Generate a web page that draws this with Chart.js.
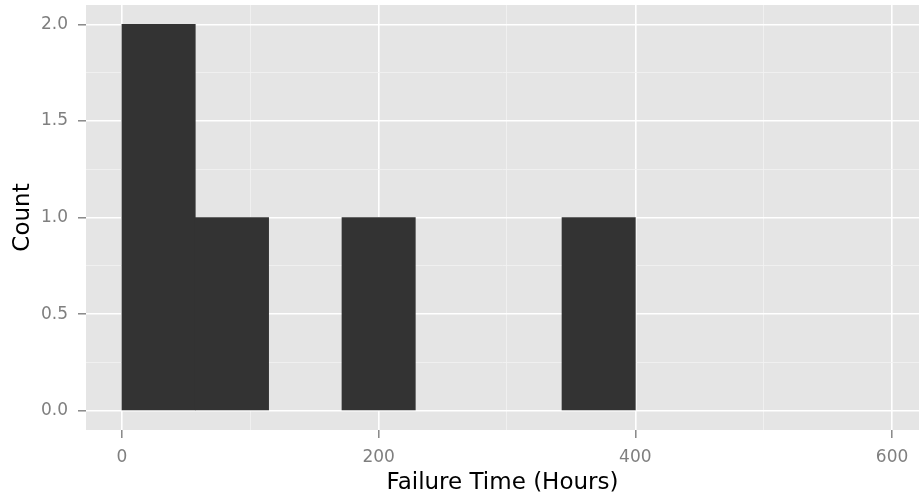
<!DOCTYPE html>
<html>
<head>
<meta charset="utf-8">
<script src="https://cdn.jsdelivr.net/npm/chart.js@4.4.1/dist/chart.umd.min.js"></script>
<style>
  html, body { margin: 0; padding: 0; background: #ffffff; }
  #wrap { width: 919px; height: 497px; }
</style>
</head>
<body>
<div id="wrap"><canvas id="c" width="919" height="497"></canvas></div>
<script>
// Histogram bins (Failure Time, hours) and counts
const binEdges = [0, 57.14, 114.29, 171.43, 228.57, 285.71, 342.86, 400];
const binCounts = [2, 1, 0, 1, 0, 0, 1];

// Axis ticks
const xTickValues = [0, 100, 200, 300, 400, 500, 600];
const xMajorTicks = [0, 200, 400, 600];
const yTickValues = [0, 0.25, 0.5, 0.75, 1, 1.25, 1.5, 1.75, 2];
const yMajorTicks = [0, 0.5, 1, 1.5, 2];

const xTitle = 'Failure Time (Hours)';
const yTitle = 'Count';

const points = binCounts.map((c, i) => ({ x: (binEdges[i] + binEdges[i + 1]) / 2, y: c }));

const panelBg = {
  id: 'panelBg',
  beforeDraw(chart) {
    const { ctx, chartArea: a } = chart;
    ctx.save();
    ctx.fillStyle = '#ffffff';
    ctx.fillRect(0, 0, chart.width, chart.height);
    ctx.fillStyle = '#E5E5E5';
    ctx.fillRect(a.left, a.top, a.right - a.left, a.bottom - a.top);
    ctx.restore();
  }
};

const isMajorX = v => xMajorTicks.some(m => Math.abs(m - v) < 1e-9);
const isMajorY = v => yMajorTicks.some(m => Math.abs(m - v) < 1e-9);

new Chart(document.getElementById('c'), {
  type: 'bar',
  data: {
    datasets: [{
      data: points,
      backgroundColor: ctx => (ctx.raw && ctx.raw.y === 0) ? 'rgba(0,0,0,0)' : '#333333',
      borderWidth: 0,
      barPercentage: 1.0,
      categoryPercentage: 1.0
    }]
  },
  options: {
    responsive: false,
    animation: false,
    layout: { padding: { top: 5, right: 0, left: 0, bottom: 0 } },
    plugins: { legend: { display: false }, tooltip: { enabled: false } },
    scales: {
      x: {
        type: 'linear',
        offset: false,
        min: -28,
        max: 621,
        afterBuildTicks: s => { s.ticks = xTickValues.map(v => ({ value: v })); },
        afterFit: s => { s.height = 67; s.paddingLeft = 0; s.paddingRight = 0; },
        ticks: {
          autoSkip: false,
          maxRotation: 0,
          padding: 9,
          color: '#7F7F7F',
          font: { family: 'DejaVu Sans', size: 17 },
          callback: v => isMajorX(v) ? String(v) : ''
        },
        grid: {
          offset: false,
          color: ctx => isMajorX(ctx.tick.value) ? '#FFFFFF' : '#F2F2F2',
          lineWidth: ctx => isMajorX(ctx.tick.value) ? 1.6 : 0.8,
          tickColor: ctx => isMajorX(ctx.tick.value) ? '#7F7F7F' : 'rgba(0,0,0,0)',
          tickLength: 8,
          tickWidth: 1.4
        },
        border: { display: false },
        title: {
          display: true,
          text: xTitle,
          color: '#000000',
          font: { family: 'DejaVu Sans', size: 23 },
          padding: { top: 0, bottom: 0 }
        }
      },
      y: {
        type: 'linear',
        min: -0.1,
        max: 2.1,
        afterBuildTicks: s => { s.ticks = yTickValues.map(v => ({ value: v })); },
        afterFit: s => { s.width = 86; s.paddingTop = 0; s.paddingBottom = 0; },
        ticks: {
          autoSkip: false,
          padding: 10,
          color: '#7F7F7F',
          font: { family: 'DejaVu Sans', size: 17 },
          callback: v => isMajorY(v) ? Number(v).toFixed(1) : ''
        },
        grid: {
          color: ctx => isMajorY(ctx.tick.value) ? '#FFFFFF' : '#F2F2F2',
          lineWidth: ctx => isMajorY(ctx.tick.value) ? 1.6 : 0.8,
          tickColor: ctx => isMajorY(ctx.tick.value) ? '#7F7F7F' : 'rgba(0,0,0,0)',
          tickLength: 8,
          tickWidth: 1.4
        },
        border: { display: false },
        title: {
          display: true,
          text: yTitle,
          color: '#000000',
          font: { family: 'DejaVu Sans', size: 23 },
          padding: { top: 9, bottom: 0 }
        }
      }
    }
  },
  plugins: [panelBg]
});
</script>
</body>
</html>
